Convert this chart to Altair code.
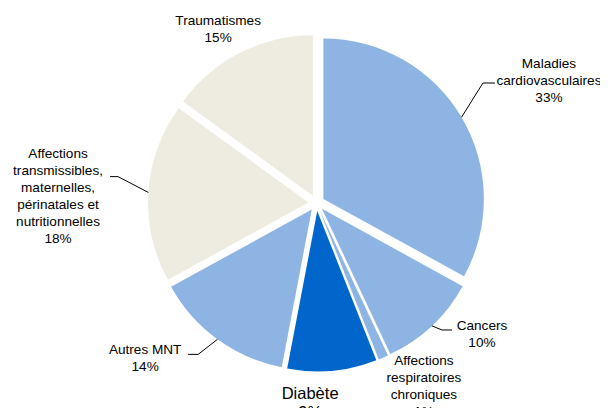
import math
import altair as alt
import pandas as pd

# ---------------- data ----------------
label_names = [
    "Maladies\ncardiovasculaires",
    "Cancers",
    "Affections\nrespiratoires\nchroniques",
    "Diabète",
    "Autres MNT",
    "Affections\ntransmissibles,\nmaternelles,\npérinatales et\nnutritionnelles",
    "Traumatismes",
]
values = [33, 10, 1, 9, 14, 18, 15]
colors = ["#8EB4E3", "#8EB4E3", "#8EB4E3", "#0066CC", "#8EB4E3", "#EEECE1", "#EEECE1"]

# ---------------- layout (style) ----------------
W, H = 592, 400
CX, CY = 308.5, 195.0      # pie centre (chart coords)
LCX, LCY = 308.5, 192.5    # origin used to place the labels
R = 160.5                  # outer radius
EXPLODE = 8                # slice explosion distance
FS_SMALL, LH_SMALL = 13.6, 17
FS_BIG, LH_BIG = 16.5, 19
label_nudge = [3.3, -7.8, -6.6, 7.2, 11.4, -2.7, -2.9]        # degrees
label_radius = [261.6, 212.9, 214.8, 203.1, 232.8, 258.5, 197.3]
# leader: (dx, dy) of the text-side end relative to label centre, elbow length
leaders = {0: (-54, 2.5, -12), 1: (-30, -4.5, -10), 4: (43, -3.7, 10), 5: (52, -19.8, 8)}

total = sum(values)
rows, labels, lines = [], [], []
cum = 0.0
for i, (name, v, c) in enumerate(zip(label_names, values, colors)):
    start, end = cum, cum + v
    cum = end
    mid = (start + end) / 2 / total * 2 * math.pi
    ox = CX + EXPLODE * math.sin(mid)
    oy = CY - EXPLODE * math.cos(mid)
    rows.append({"name": name, "start": start, "end": end, "x": ox, "y": oy, "color": c})
    la = mid + math.radians(label_nudge[i])
    lx = LCX + label_radius[i] * math.sin(la)
    ly = LCY - label_radius[i] * math.cos(la)
    text = f"{name}\n{v}%"
    big = name == "Diabète"
    n = text.count("\n") + 1
    lh = LH_BIG if big else LH_SMALL
    labels.append({"text": text, "x": lx, "y": ly - (n - 1) * lh / 2, "big": big})
    if i in leaders:
        dx, dy, el = leaders[i]
        p0 = (CX + (R + EXPLODE) * math.sin(mid), CY - (R + EXPLODE) * math.cos(mid))
        p2 = (lx + dx, ly + dy)
        p1 = (p2[0] + el, p2[1])
        for k, p in enumerate([p0, p1, p2]):
            lines.append({"id": i, "k": k, "x": p[0], "y": p[1]})

slices = pd.DataFrame(rows)
lab = pd.DataFrame(labels)
lead = pd.DataFrame(lines)

FONT = "Liberation Sans"

pie = alt.Chart(slices).mark_arc(outerRadius=R, stroke=None).encode(
    theta=alt.Theta("start:Q", scale=alt.Scale(domain=[0, total], range=[0, 2 * math.pi])),
    theta2="end:Q",
    x=alt.X("x:Q", scale=None, axis=None),
    y=alt.Y("y:Q", scale=None, axis=None),
    color=alt.Color("color:N", scale=None),
)

text_small = alt.Chart(lab).transform_filter("!datum.big").mark_text(
    font=FONT, fontSize=FS_SMALL, lineBreak="\n", lineHeight=LH_SMALL,
    align="center", baseline="middle", color="#000000",
).encode(
    x=alt.X("x:Q", scale=None, axis=None),
    y=alt.Y("y:Q", scale=None, axis=None),
    text="text:N",
)

text_big = alt.Chart(lab).transform_filter("datum.big").mark_text(
    font=FONT, fontSize=FS_BIG, lineBreak="\n", lineHeight=LH_BIG,
    align="center", baseline="middle", color="#000000",
).encode(
    x=alt.X("x:Q", scale=None, axis=None),
    y=alt.Y("y:Q", scale=None, axis=None),
    text="text:N",
)

leader = alt.Chart(lead).mark_line(color="#000000", strokeWidth=1).encode(
    x=alt.X("x:Q", scale=None, axis=None),
    y=alt.Y("y:Q", scale=None, axis=None),
    detail="id:N",
    order="k:Q",
)

chart = alt.layer(pie, leader, text_small, text_big).properties(
    width=W, height=H,
    autosize=alt.AutoSizeParams(type="none"),
    padding=0,
).configure_view(stroke=None)

chart.save("out.html", embed_options={"renderer": "svg", "actions": False})
